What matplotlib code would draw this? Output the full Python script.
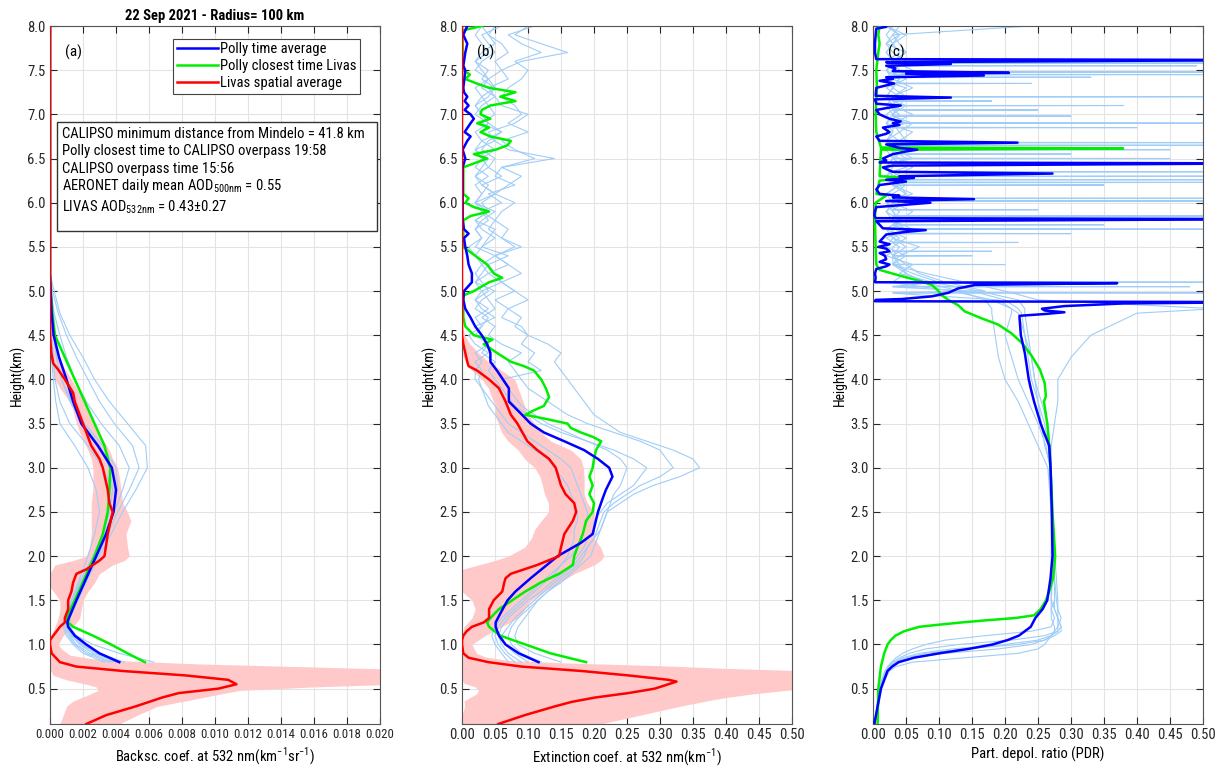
import numpy as np
import matplotlib
matplotlib.use('Agg')
import matplotlib.pyplot as plt
from matplotlib.patches import Rectangle
from matplotlib import font_manager

# pick a condensed sans font if one is installed
_entries = [(f.name, f.stretch) for f in font_manager.fontManager.ttflist]
_cond = ('condensed', 'semi-condensed', 'extra-condensed', 'ultra-condensed')
FONT, STRETCH = 'Roboto', 'normal'
for _name, _need_cond in [('Liberation Sans Narrow', False), ('Roboto Condensed', False),
                          ('Open Sans Condensed', False), ('Noto Sans', True),
                          ('DejaVu Sans', True), ('Open Sans', True), ('Roboto', True)]:
    if any(n == _name and (not _need_cond or s in _cond) for n, s in _entries):
        FONT, STRETCH = _name, ('condensed' if _need_cond else 'normal')
        break
plt.rcParams['font.family'] = [FONT, 'DejaVu Sans']
plt.rcParams['font.stretch'] = STRETCH

# ---------------- Panel (a): backscatter, values in 1e-3 km^-1 sr^-1 ----------------
h_polly_a = [0.8, 0.9, 1.0, 1.1, 1.2, 1.25, 1.3, 1.5, 1.75, 2.0, 2.25, 2.5, 2.75, 3.0,
             3.25, 3.5, 3.75, 4.0, 4.25, 4.5, 4.75, 5.0, 5.2, 8.0]
blue_a = [4.2, 3.0, 2.2, 1.5, 1.1, 1.05, 1.15, 1.6, 2.2, 2.8, 3.4, 3.85, 4.0, 3.75,
          2.9, 1.9, 1.4, 1.0, 0.55, 0.22, 0.1, 0.04, 0.0, 0.0]
green_a = [5.75, 4.7, 3.7, 2.6, 1.4, 1.1, 1.0, 1.5, 2.1, 2.7, 3.2, 3.5, 3.6, 3.65,
           3.3, 2.7, 2.1, 1.5, 0.9, 0.3, 0.15, 0.05, 0.0, 0.0]
lightblue_a = [
    [6.3, 4.2, 2.6, 1.6, 1.2, 1.2, 1.2, 1.7, 2.3, 3.0, 3.7, 4.4, 5.2, 5.9, 5.8, 4.7, 3.6, 2.7, 2.0, 1.2, 0.6, 0.25, 0.0, 0.0],
    [4.5, 3.0, 2.0, 1.4, 1.1, 1.1, 1.1, 1.6, 2.2, 2.9, 3.5, 4.1, 4.8, 5.4, 5.0, 3.9, 3.0, 2.3, 1.6, 1.0, 0.5, 0.15, 0.0, 0.0],
    [4.2, 2.6, 1.8, 1.3, 1.0, 1.0, 1.0, 1.5, 2.1, 2.8, 3.4, 3.9, 4.4, 4.8, 4.2, 3.1, 2.2, 1.5, 1.0, 0.6, 0.25, 0.05, 0.0, 0.0],
    [3.8, 2.4, 1.6, 1.2, 1.0, 0.95, 0.9, 1.3, 2.0, 2.7, 3.3, 3.8, 4.1, 4.0, 3.2, 2.1, 1.3, 0.7, 0.4, 0.2, 0.1, 0.0, 0.0, 0.0],
    [3.6, 2.2, 1.5, 1.1, 0.9, 0.9, 0.9, 1.3, 1.9, 2.6, 3.2, 3.6, 3.8, 3.2, 2.3, 1.2, 0.6, 0.3, 0.2, 0.1, 0.05, 0.0, 0.0, 0.0],
    [3.3, 2.0, 1.4, 1.0, 0.8, 0.85, 0.9, 1.3, 1.8, 2.3, 2.7, 3.0, 2.8, 2.3, 1.5, 0.6, 0.35, 0.2, 0.1, 0.05, 0.0, 0.0, 0.0, 0.0],
    [4.0, 2.8, 1.9, 1.3, 1.1, 1.0, 1.0, 1.4, 2.1, 2.7, 3.2, 3.6, 3.8, 3.6, 3.0, 2.0, 1.2, 0.7, 0.4, 0.25, 0.1, 0.0, 0.0, 0.0],
]
h_livas_a = [0.1, 0.2, 0.3, 0.4, 0.45, 0.5, 0.55, 0.6, 0.65, 0.7, 0.75, 0.8, 0.9, 1.0,
             1.05, 1.1, 1.2, 1.25, 1.3, 1.4, 1.5, 1.6, 1.7, 1.8, 1.85, 1.95, 2.0, 2.25,
             2.5, 2.6, 2.75, 3.0, 3.1, 3.25, 3.5, 3.75, 3.85, 4.0, 4.11, 4.18, 4.3, 4.45, 4.55, 8.0]
red_a = [2.2, 3.4, 5.2, 6.8, 7.8, 10.2, 11.3, 10.8, 8.2, 4.4, 1.6, 0.6, 0.1, 0.0,
         0.0, 0.2, 0.6, 0.9, 0.9, 1.1, 1.1, 1.3, 1.4, 1.6, 2.2, 3.0, 3.3, 3.5,
         3.8, 3.6, 3.5, 3.2, 3.0, 2.5, 2.0, 1.5, 1.4, 0.9, 0.5, 0.2, 0.08, 0.02, 0.0, 0.0]
h_band_a = [0.1, 0.2, 0.3, 0.36, 0.42, 0.48, 0.52, 0.55, 0.6, 0.65, 0.72, 0.75, 0.78,
            0.81, 0.84, 0.88, 0.95, 1.0, 1.1, 1.2, 1.3, 1.4, 1.5, 1.6, 1.65, 1.7, 1.8,
            1.9, 1.95, 2.0, 2.1, 2.25, 2.4, 2.5, 2.6, 2.75, 2.9, 3.0, 3.1, 3.2, 3.35,
            3.5, 3.65, 3.75, 3.9, 4.0, 4.15, 4.3, 4.45, 4.55]
band_lo_a = [0.6, 0.8, 1.0, 1.4, 2.2, 2.9, 2.8, 2.2, 1.0, 0.2, 0.0, 0.0, 0.0,
             0.0, 0.0, 0.0, 0.0, 0.0, 0.05, 0.3, 0.5, 0.6, 0.6, 0.2, 0.0, 0.0, 0.0,
             0.3, 1.4, 2.2, 2.4, 2.5, 2.5, 2.5, 2.5, 2.6, 2.6, 2.6, 2.5, 2.3, 1.9,
             1.6, 1.4, 1.2, 0.6, 0.3, 0.1, 0.0, 0.0, 0.0]
band_hi_a = [4.2, 5.3, 6.5, 8.2, 9.8, 11.5, 16.0, 21.0, 21.0, 21.0, 21.0, 15.0, 9.0,
             5.0, 2.5, 1.2, 0.7, 0.5, 0.8, 1.4, 1.8, 1.9, 2.0, 2.3, 2.5, 2.7, 3.0,
             3.8, 4.5, 4.8, 4.7, 4.6, 4.9, 4.7, 4.4, 4.3, 4.2, 4.1, 3.8, 3.6, 3.1,
             2.7, 2.4, 2.1, 1.6, 1.3, 0.8, 0.4, 0.15, 0.0]

# ---------------- Panel (b): extinction, km^-1 ----------------
h_polly_b = [0.8, 0.9, 1.0, 1.1, 1.2, 1.25, 1.35, 1.5, 1.6, 1.75, 2.0, 2.15, 2.25, 2.5,
             2.65, 2.75, 2.9, 3.0, 3.1, 3.2, 3.3, 3.4, 3.5, 3.6, 3.75, 3.9, 4.0, 4.1,
             4.2, 4.3, 4.4, 4.5, 4.6, 4.7, 4.8, 4.9, 5.0, 5.1, 5.2, 5.3, 5.4, 5.5,
             5.6, 5.65, 5.7, 5.8, 6.0, 6.2, 6.4, 6.5, 6.6, 6.7, 6.75, 6.8, 6.9, 6.95,
             7.0, 7.05, 7.1, 7.15, 7.2, 7.25, 7.3, 7.5, 7.55, 7.7, 7.8, 7.9, 8.0]
blue_b = [0.116, 0.086, 0.066, 0.056, 0.051, 0.051, 0.058, 0.069, 0.081, 0.104, 0.145, 0.180, 0.198, 0.206,
          0.213, 0.218, 0.228, 0.223, 0.206, 0.185, 0.155, 0.124, 0.104, 0.091, 0.071, 0.071, 0.062, 0.053,
          0.043, 0.043, 0.038, 0.030, 0.020, 0.013, 0.005, 0.002, 0.003, 0.015, 0.015, 0.010, 0.008, 0.005,
          0.003, 0.010, 0.003, 0.001, 0.001, 0.001, 0.001, 0.005, 0.001, 0.008, 0.013, 0.004, 0.013, 0.018,
          0.013, 0.004, 0.010, 0.004, 0.008, 0.003, 0.002, 0.005, 0.002, 0.005, 0.008, 0.002, 0.008]
h_green_b = [0.8, 0.9, 1.0, 1.1, 1.2, 1.25, 1.3, 1.4, 1.5, 1.6, 1.7, 1.8, 1.9, 2.0,
             2.1, 2.25, 2.4, 2.5, 2.6, 2.7, 2.8, 2.9, 3.0, 3.1, 3.2, 3.3, 3.35, 3.4,
             3.45, 3.5, 3.55, 3.6, 3.65, 3.7, 3.8, 3.9, 4.0, 4.1, 4.15, 4.2, 4.3, 4.4,
             4.45, 4.5, 4.6, 4.7, 4.95, 5.0, 5.1, 5.15, 5.2, 5.3, 5.4, 5.5, 5.8, 5.85,
             5.9, 5.95, 6.0, 6.05, 6.1, 6.4, 6.45, 6.5, 6.55, 6.6, 6.65, 6.7, 6.75, 6.8,
             6.85, 6.9, 6.95, 7.0, 7.05, 7.1, 7.15, 7.2, 7.25, 7.3, 7.35, 7.4, 7.45, 7.5,
             7.6, 7.95, 8.0]
green_b = [0.188, 0.134, 0.096, 0.058, 0.041, 0.038, 0.043, 0.056, 0.076, 0.096, 0.119, 0.147, 0.168, 0.170,
           0.175, 0.183, 0.188, 0.198, 0.200, 0.193, 0.198, 0.193, 0.198, 0.200, 0.203, 0.211, 0.198, 0.180,
           0.165, 0.160, 0.129, 0.096, 0.109, 0.124, 0.132, 0.127, 0.120, 0.109, 0.094, 0.074, 0.053, 0.033,
           0.046, 0.018, 0.005, 0.002, 0.002, 0.018, 0.041, 0.061, 0.048, 0.038, 0.020, 0.002, 0.002, 0.013,
           0.041, 0.018, 0.005, 0.010, 0.002, 0.002, 0.020, 0.038, 0.018, 0.051, 0.069, 0.074, 0.043, 0.028,
           0.041, 0.023, 0.043, 0.028, 0.030, 0.043, 0.081, 0.058, 0.081, 0.041, 0.022, 0.005, 0.012, 0.002,
           0.001, 0.001, 0.030]
h_lb_b = [0.8, 0.9, 1.0, 1.1, 1.2, 1.3, 1.4, 1.5, 1.6, 1.7, 1.8, 1.9, 2.0, 2.1, 2.2, 2.3, 2.4,
          2.5, 2.6, 2.7, 2.8, 2.9, 3.0, 3.1, 3.2, 3.3, 3.4, 3.5, 3.6, 3.7, 3.8, 3.9, 4.0,
          4.1, 4.2, 4.3, 4.4, 4.5, 4.6, 4.7, 4.8, 4.9, 5.0, 5.1, 5.2, 5.3, 5.4, 5.5, 5.6,
          5.7, 5.8, 5.9, 6.0, 6.1, 6.2, 6.3, 6.4, 6.5, 6.6, 6.7, 6.8, 6.9, 7.0, 7.1, 7.2,
          7.3, 7.4, 7.5, 7.6, 7.7, 7.8, 7.9, 8.0]
lightblue_b = [
    [.12, .09, .075, .07, .075, .085, .10, .115, .13, .145, .16, .175, .185, .19, .20, .21, .215,
     .22, .24, .26, .29, .33, .36, .35, .32, .28, .24, .22, .20, .19, .18, .17, .16,
     .15, .14, .15, .13, .10, .09, .06, .07, .05, .08, .06, .04, .07, .05, .09, .06,
     .04, .05, .03, .06, .04, .08, .05, .06, .14, .07, .05, .04, .08, .10, .06, .05,
     .04, .07, .06, .09, .16, .12, .08, .10],
    [.10, .08, .065, .06, .07, .08, .095, .11, .125, .14, .155, .17, .18, .19, .20, .205, .21,
     .215, .23, .25, .27, .30, .32, .31, .30, .27, .23, .19, .16, .14, .12, .10, .09,
     .08, .07, .09, .06, .04, .05, .03, .05, .04, .03, .06, .05, .04, .07, .03, .04,
     .05, .02, .04, .03, .05, .03, .06, .04, .05, .03, .04, .06, .03, .05, .04, .03,
     .05, .04, .06, .05, .07, .06, .04, .05],
    [.09, .07, .06, .055, .06, .07, .085, .10, .12, .135, .15, .165, .175, .185, .19, .20, .20,
     .21, .22, .24, .26, .27, .28, .26, .23, .19, .15, .12, .10, .08, .07, .06, .05,
     .04, .05, .03, .04, .02, .03, .04, .02, .03, .05, .02, .03, .04, .02, .03, .05,
     .03, .02, .04, .02, .03, .04, .02, .03, .04, .02, .05, .03, .04, .02, .03, .05,
     .03, .04, .02, .03, .05, .04, .03, .06],
    [.08, .065, .055, .05, .055, .065, .08, .095, .11, .125, .14, .15, .16, .165, .17, .17, .175,
     .175, .17, .165, .16, .15, .14, .13, .11, .09, .07, .06, .05, .04, .035, .03, .02,
     .02, .03, .02, .04, .03, .02, .05, .03, .02, .04, .03, .02, .03, .05, .02, .03,
     .02, .04, .03, .02, .05, .03, .02, .04, .03, .05, .03, .06, .04, .03, .02, .04,
     .05, .03, .04, .02, .03, .05, .04, .03],
    [.07, .06, .05, .045, .05, .06, .075, .09, .105, .12, .135, .15, .165, .175, .18, .185, .19,
     .19, .185, .18, .175, .17, .165, .15, .13, .11, .09, .07, .06, .05, .04, .03, .025,
     .03, .02, .04, .02, .01, .03, .02, .04, .02, .03, .02, .04, .03, .02, .01, .03,
     .02, .03, .05, .02, .03, .02, .04, .02, .03, .02, .03, .02, .04, .03, .02, .03,
     .02, .04, .03, .02, .04, .03, .02, .03],
    [.15, .11, .085, .08, .085, .095, .105, .115, .13, .15, .165, .18, .195, .20, .205, .21, .215,
     .22, .225, .23, .24, .245, .25, .24, .22, .19, .16, .13, .11, .09, .08, .07, .06,
     .12, .10, .11, .09, .10, .08, .09, .07, .10, .08, .06, .09, .07, .05, .08, .06,
     .07, .05, .06, .08, .05, .07, .09, .06, .11, .08, .06, .10, .07, .09, .08, .06,
     .07, .09, .10, .08, .12, .09, .07, .11],
]
h_livas_b = [0.1, 0.15, 0.2, 0.3, 0.35, 0.4, 0.45, 0.5, 0.58, 0.6, 0.65, 0.7, 0.75, 0.8,
             0.85, 0.9, 1.0, 1.05, 1.1, 1.15, 1.2, 1.25, 1.3, 1.4, 1.5, 1.6, 1.7, 1.75,
             1.8, 1.85, 1.9, 2.0, 2.1, 2.25, 2.4, 2.5, 2.6, 2.7, 2.8, 3.0, 3.1, 3.2,
             3.3, 3.5, 3.6, 3.75, 3.9, 4.0, 4.1, 4.15, 4.2, 4.3, 4.4, 4.5, 8.0]
red_b = [0.055, 0.075, 0.095, 0.141, 0.166, 0.202, 0.252, 0.292, 0.325, 0.313, 0.252, 0.181, 0.090, 0.040,
         0.010, 0.002, 0.0, 0.0, 0.002, 0.007, 0.015, 0.033, 0.041, 0.041, 0.048, 0.061, 0.064, 0.066,
         0.074, 0.094, 0.114, 0.147, 0.150, 0.155, 0.168, 0.173, 0.170, 0.157, 0.150, 0.142, 0.132, 0.114,
         0.099, 0.084, 0.074, 0.066, 0.056, 0.041, 0.023, 0.010, 0.008, 0.005, 0.002, 0.0, 0.0]
h_band_b = [0.1, 0.2, 0.3, 0.36, 0.4, 0.44, 0.48, 0.52, 0.56, 0.6, 0.7, 0.73, 0.76, 0.79,
            0.82, 0.86, 0.9, 1.0, 1.1, 1.2, 1.3, 1.4, 1.5, 1.6, 1.7, 1.8, 1.85, 1.9,
            1.95, 2.0, 2.1, 2.2, 2.3, 2.4, 2.5, 2.6, 2.7, 2.8, 2.9, 3.0, 3.1, 3.2,
            3.3, 3.4, 3.5, 3.6, 3.7, 3.8, 3.9, 4.0, 4.1, 4.2, 4.3, 4.4, 4.5, 4.6]
band_lo_b = [0.0, 0.0, 0.004, 0.003, 0.012, 0.022, 0.025, 0.020, 0.003, 0.0, 0.0, 0.0, 0.0, 0.0,
             0.0, 0.0, 0.0, 0.0, 0.0, 0.003, 0.015, 0.02, 0.015, 0.0, 0.0, 0.0, 0.0, 0.025,
             0.05, 0.07, 0.095, 0.105, 0.11, 0.12, 0.131, 0.131, 0.125, 0.122, 0.118, 0.11, 0.095, 0.085,
             0.07, 0.06, 0.055, 0.05, 0.05, 0.045, 0.04, 0.03, 0.015, 0.005, 0.0, 0.0, 0.0, 0.0]
band_hi_b = [0.21, 0.27, 0.33, 0.37, 0.40, 0.44, 0.49, 0.53, 0.53, 0.53, 0.53, 0.40, 0.30, 0.16,
             0.07, 0.035, 0.022, 0.015, 0.035, 0.06, 0.085, 0.095, 0.105, 0.125, 0.148, 0.17, 0.185, 0.20,
             0.21, 0.215, 0.21, 0.20, 0.20, 0.20, 0.20, 0.19, 0.185, 0.185, 0.185, 0.184, 0.18, 0.165,
             0.135, 0.12, 0.11, 0.10, 0.095, 0.09, 0.085, 0.08, 0.06, 0.04, 0.025, 0.012, 0.004, 0.0]

# ---------------- Panel (c): particle depolarization ratio ----------------
h_blue_c = [0.1, 0.3, 0.5, 0.6, 0.7, 0.75, 0.8, 0.85, 0.9, 0.95, 1.0, 1.05, 1.1, 1.2,
            1.3, 1.4, 1.5, 1.75, 2.0, 2.5, 3.0, 3.25, 3.4, 3.5, 3.75, 3.9, 4.0, 4.3,
            4.5, 4.7, 4.72, 4.74, 4.76, 4.78, 4.80, 4.83, 4.86, 4.875, 4.885, 4.90, 4.91, 4.94,
            4.98, 5.03, 5.07, 5.09, 5.10, 5.15, 5.2, 5.25, 5.28, 5.3, 5.33, 5.36, 5.4, 5.43,
            5.45, 5.48, 5.5, 5.53, 5.56, 5.6, 5.64, 5.67, 5.69, 5.71, 5.75, 5.79, 5.815, 5.825,
            5.86, 5.9, 5.95, 6.0, 6.02, 6.04, 6.06, 6.08, 6.1, 6.15, 6.2, 6.22, 6.24, 6.26,
            6.28, 6.30, 6.33, 6.35, 6.38, 6.40, 6.42, 6.445, 6.455, 6.48, 6.5, 6.55, 6.58, 6.60,
            6.62, 6.64, 6.66, 6.68, 6.70, 6.75, 6.78, 6.8, 6.85, 6.88, 6.9, 6.92, 6.95, 7.0,
            7.05, 7.1, 7.12, 7.17, 7.19, 7.21, 7.3, 7.35, 7.38, 7.4, 7.42, 7.44, 7.46, 7.47,
            7.49, 7.52, 7.55, 7.57, 7.59, 7.615, 7.625, 7.7, 7.8, 7.9, 7.97, 7.99, 8.0]
blue_c = [0.002, 0.007, 0.012, 0.017, 0.022, 0.029, 0.039, 0.062, 0.100, 0.145, 0.181, 0.204, 0.221, 0.239,
          0.246, 0.257, 0.264, 0.269, 0.272, 0.271, 0.269, 0.267, 0.259, 0.254, 0.244, 0.239, 0.236, 0.230,
          0.224, 0.222, 0.222, 0.26, 0.29, 0.26, 0.256, 0.29, 0.38, 0.60, 0.003, 0.004, 0.044, 0.089,
          0.114, 0.129, 0.155, 0.37, 0.003, 0.004, 0.003, 0.005, 0.02, 0.025, 0.01, 0.02, 0.018, 0.01,
          0.025, 0.02, 0.008, 0.025, 0.01, 0.015, 0.02, 0.05, 0.08, 0.015, 0.01, 0.005, 0.60, 0.004,
          0.002, 0.003, 0.005, 0.087, 0.02, 0.153, 0.03, 0.04, 0.01, 0.005, 0.01, 0.03, 0.05, 0.02,
          0.062, 0.04, 0.272, 0.03, 0.02, 0.015, 0.03, 0.60, 0.01, 0.02, 0.015, 0.03, 0.05, 0.067,
          0.04, 0.03, 0.02, 0.219, 0.01, 0.005, 0.02, 0.025, 0.015, 0.04, 0.03, 0.042, 0.025, 0.01,
          0.005, 0.042, 0.005, 0.003, 0.118, 0.004, 0.005, 0.032, 0.01, 0.03, 0.02, 0.168, 0.05, 0.206,
          0.03, 0.034, 0.02, 0.118, 0.02, 0.60, 0.005, 0.003, 0.003, 0.004, 0.005, 0.02, 0.02]
h_green_c = [0.1, 0.5, 0.75, 0.9, 1.0, 1.05, 1.1, 1.15, 1.2, 1.22, 1.25, 1.27, 1.3, 1.33,
             1.4, 1.5, 1.6, 1.75, 2.0, 2.5, 3.0, 3.25, 3.5, 3.75, 3.81, 3.96, 4.11, 4.26,
             4.41, 4.52, 4.62, 4.69, 4.77, 4.84, 4.9, 4.955, 5.01, 5.07, 5.12, 5.18, 5.24, 5.3,
             5.5, 5.8, 6.0, 6.08, 6.1, 6.25, 6.28, 6.3, 6.6, 6.615, 6.625, 6.8, 7.0, 7.3,
             7.5, 7.7, 7.8, 7.9, 8.0]
green_c = [0.007, 0.008, 0.012, 0.017, 0.022, 0.027, 0.034, 0.047, 0.070, 0.095, 0.135, 0.166, 0.216, 0.244,
           0.254, 0.262, 0.267, 0.273, 0.276, 0.272, 0.269, 0.267, 0.264, 0.259, 0.262, 0.260, 0.253, 0.241,
           0.226, 0.210, 0.190, 0.165, 0.139, 0.129, 0.114, 0.104, 0.098, 0.089, 0.068, 0.038, 0.010, 0.005,
           0.004, 0.003, 0.004, 0.020, 0.005, 0.010, 0.057, 0.010, 0.012, 0.379, 0.012, 0.005, 0.004, 0.006,
           0.005, 0.008, 0.010, 0.008, 0.010]
h_lb_c = [0.1, 0.3, 0.5, 0.6, 0.7, 0.75, 0.8, 0.85, 0.9, 0.95, 1.0, 1.05, 1.1, 1.15, 1.2, 1.3,
          1.4, 1.5, 1.75, 2.0, 2.5, 3.0, 3.25, 3.5, 3.75, 4.0, 4.25, 4.5, 4.75,
          4.8, 4.9, 5.0, 5.1, 5.2, 5.3, 5.4, 5.5, 5.6, 5.7, 5.8, 5.9, 6.0, 6.1, 6.2, 6.3,
          6.4, 6.5, 6.6, 6.7, 6.8, 6.9, 7.0, 7.1, 7.2, 7.3, 7.4, 7.5, 7.6, 7.7, 7.8, 7.9, 8.0]
lightblue_c = [
    [.003, .008, .013, .018, .025, .035, .06, .14, .22, .25, .26, .265, .27, .275, .275, .27,
     .27, .275, .275, .275, .27, .27, .265, .26, .25, .24, .235, .23, .22,
     .21, .18, .12, .08, .05, .04, .03, .05, .03, .02, .04, .03, .02, .05, .03, .04,
     .02, .03, .05, .02, .04, .03, .02, .04, .03, .05, .02, .03, .04, .02, .03, .02, .03],
    [.003, .008, .012, .016, .022, .028, .038, .06, .11, .19, .24, .26, .27, .275, .28, .28,
     .28, .28, .278, .275, .272, .27, .268, .265, .255, .245, .24, .23, .225,
     .22, .20, .15, .10, .06, .03, .05, .02, .04, .06, .03, .02, .04, .03, .05, .02,
     .03, .06, .04, .02, .03, .05, .03, .02, .04, .06, .03, .02, .05, .03, .02, .04, .02],
    [.002, .007, .011, .015, .02, .025, .033, .045, .07, .12, .20, .25, .27, .28, .28, .285,
     .28, .278, .275, .273, .27, .268, .262, .25, .235, .22, .21, .20, .21,
     .21, .19, .17, .11, .07, .05, .03, .04, .02, .05, .03, .04, .02, .06, .03, .02,
     .05, .03, .02, .04, .06, .02, .03, .05, .02, .03, .04, .02, .03, .05, .02, .03, .04],
    [.002, .006, .01, .014, .019, .024, .03, .04, .055, .08, .13, .21, .26, .28, .285, .28,
     .275, .27, .27, .27, .27, .27, .26, .255, .25, .245, .24, .235, .23,
     .23, .22, .16, .09, .04, .06, .02, .03, .05, .02, .04, .03, .05, .02, .04, .03,
     .02, .05, .03, .04, .02, .03, .06, .03, .04, .02, .05, .03, .02, .04, .03, .05, .02],
    [.002, .006, .009, .013, .018, .022, .028, .035, .045, .06, .08, .11, .17, .24, .27, .275,
     .27, .27, .272, .275, .27, .265, .25, .235, .22, .20, .19, .185, .18,
     .18, .17, .13, .08, .05, .03, .04, .02, .03, .02, .04, .02, .03, .02, .04, .03,
     .02, .03, .04, .02, .03, .02, .04, .03, .02, .03, .02, .04, .03, .02, .03, .04, .02],
    [.002, .007, .011, .015, .02, .026, .034, .05, .08, .14, .22, .26, .275, .285, .285, .28,
     .275, .275, .275, .275, .272, .27, .27, .275, .28, .28, .30, .33, .40,
     .52, .25, .20, .14, .08, .06, .04, .07, .03, .05, .04, .06, .03, .05, .04, .03,
     .06, .04, .03, .05, .04, .06, .03, .04, .05, .03, .04, .06, .03, .05, .04, .03, .24],
]
# horizontal spikes in the light-blue PDR profiles: (profile index, height, value)
spike_prof = [0, 1, 2, 3, 4, 5, 0, 1, 2, 3, 4, 5, 0, 1, 2, 3, 4, 5, 0, 1, 2, 3, 4, 5,
              0, 1, 2, 3, 4, 5, 0, 1, 2, 3, 4, 5, 0, 1, 2]
spike_h = [7.62, 7.58, 7.55, 7.48, 7.45, 7.42, 7.35, 7.20, 7.15, 7.10, 7.05, 6.98,
           6.90, 6.85, 6.68, 6.65, 6.60, 6.55, 6.50, 6.45, 6.35, 6.30, 6.26, 6.23,
           6.20, 6.05, 6.02, 5.92, 5.85, 5.75, 5.70, 5.65, 5.55, 5.45, 5.40, 5.30,
           5.10, 5.05, 4.98]
spike_v = [0.6, 0.6, 0.49, 0.6, 0.6, 0.33, 0.24, 0.6, 0.18, 0.38, 0.25, 0.30,
           0.6, 0.40, 0.6, 0.6, 0.45, 0.30, 0.45, 0.6, 0.6, 0.6, 0.6, 0.6,
           0.35, 0.6, 0.6, 0.25, 0.6, 0.35, 0.6, 0.30, 0.22, 0.18, 0.15, 0.20,
           0.6, 0.48, 0.6]

# ---------------- styling ----------------
C_BLUE = '#0000ff'
C_GREEN = '#00ee00'
C_RED = '#ff0000'
C_LB = '#9fcdf7'
C_BAND = '#ffc9c9'

fig = plt.figure(figsize=(12.22, 7.69), dpi=100)
W, H = 1222.0, 769.0
ax_bottom = 1 - 724 / H
ax_height = (724 - 26) / H
ax_w = 330 / W
axa = fig.add_axes([50 / W, ax_bottom, ax_w, ax_height])
axb = fig.add_axes([462 / W, ax_bottom, ax_w, ax_height])
axc = fig.add_axes([873 / W, ax_bottom, ax_w, ax_height])

m = 1e-3  # panel (a) lists are in 1e-3 km^-1 sr^-1

# Panel a
axa.fill_betweenx(h_band_a, np.array(band_lo_a) * m, np.array(band_hi_a) * m,
                  color=C_BAND, lw=0, zorder=1)
for prof in lightblue_a:
    axa.plot(np.array(prof) * m, h_polly_a, color=C_LB, lw=0.8, zorder=2)
la2, = axa.plot(np.array(green_a) * m, h_polly_a, color=C_GREEN, lw=1.8, zorder=3)
la1, = axa.plot(np.array(blue_a) * m, h_polly_a, color=C_BLUE, lw=1.8, zorder=4)
la3, = axa.plot(np.array(red_a) * m, h_livas_a, color=C_RED, lw=1.8, zorder=5)

# Panel b
axb.fill_betweenx(h_band_b, band_lo_b, band_hi_b, color=C_BAND, lw=0, zorder=1)
for prof in lightblue_b:
    axb.plot(prof, h_lb_b, color=C_LB, lw=0.8, zorder=2)
axb.plot(green_b, h_green_b, color=C_GREEN, lw=1.8, zorder=3)
axb.plot(blue_b, h_polly_b, color=C_BLUE, lw=1.8, zorder=4)
axb.plot(red_b, h_livas_b, color=C_RED, lw=1.8, zorder=5)

# Panel c
for i, prof in enumerate(lightblue_c):
    hh = list(h_lb_c)
    vv = list(prof)
    for p, sh, sv in zip(spike_prof, spike_h, spike_v):
        if p == i:
            hh += [sh - 0.004, sh, sh + 0.004]
            vv += [0.03, sv, 0.03]
    order = np.argsort(hh)
    axc.plot(np.array(vv)[order], np.array(hh)[order], color=C_LB, lw=0.8, zorder=2)
axc.plot(green_c, h_green_c, color=C_GREEN, lw=1.8, zorder=3)
axc.plot(blue_c, h_blue_c, color=C_BLUE, lw=1.8, zorder=4)

# axes styling
xlabels = [r'Backsc. coef. at 532 nm(km$^{\mathregular{-1}}$sr$^{\mathregular{-1}}$)',
           r'Extinction coef. at 532 nm(km$^{\mathregular{-1}}$)',
           'Part. depol. ratio (PDR)']
for ax, xmax, step, fmt, lab, xl, xls in [(axa, 0.02, 0.002, '{:.3f}', '(a)', xlabels[0], 9.3),
                                          (axb, 0.5, 0.05, '{:.2f}', '(b)', xlabels[1], 10.5),
                                          (axc, 0.5, 0.05, '{:.2f}', '(c)', xlabels[2], 10.5)]:
    ax.set_xlim(0, xmax)
    ax.set_ylim(0.1, 8.0)
    xt = np.arange(0, xmax + step / 2, step)
    ax.set_xticks(xt)
    ax.set_xticklabels([fmt.format(v) for v in xt])
    yt = np.arange(0.5, 8.01, 0.5)
    ax.set_yticks(yt)
    ax.set_yticklabels(['{:.1f}'.format(v) for v in yt])
    ax.tick_params(direction='in', top=True, right=True, length=5, width=0.8,
                   labelsize=10.5, colors='#262626', pad=3)
    ax.tick_params(axis='x', labelsize=xls)
    ax.grid(True, color='#e3e3e3', lw=0.8)
    ax.set_axisbelow(True)
    for s in ax.spines.values():
        s.set_color('#555555')
        s.set_linewidth(0.8)
    ax.set_ylabel('Height(km)', fontsize=10, labelpad=2)
    ax.set_xlabel(xl, fontsize=10.5, labelpad=3)
    ax.text(0.045, 0.962, lab, transform=ax.transAxes, fontsize=11, va='center', ha='left', zorder=10)

axa.set_title('22 Sep 2021 - Radius= 100 km', fontsize=10.5, fontweight='bold', pad=4)

leg = axa.legend([la1, la2, la3],
                 ['Polly time average', 'Polly closest time Livas', 'Livas spatial average'],
                 loc='upper right', bbox_to_anchor=(0.94, 0.982), fontsize=10.5,
                 handlelength=2.8, handletextpad=0.15, labelspacing=0.2,
                 borderpad=0.25, fancybox=False, framealpha=1, edgecolor='#444444',
                 borderaxespad=0)
leg.get_frame().set_linewidth(0.8)

axa.add_patch(Rectangle((0.021, 0.706), 0.969, 0.156, transform=axa.transAxes,
                        facecolor='white', edgecolor='#333333', lw=1.0, zorder=8))
info_lines = ['CALIPSO minimum distance from Mindelo = 41.8 km',
              'Polly closest time to CALIPSO overpass 19:58',
              'CALIPSO overpass time 15:56',
              r'AERONET daily mean AOD$_{\mathregular{500nm}}$ = 0.55',
              r'LIVAS AOD$_{\mathregular{532nm}}$ = 0.43$\mathregular{\pm}$0.27']
info_y = [0.839, 0.815, 0.790, 0.765, 0.735]
for t, y in zip(info_lines, info_y):
    axa.text(0.036, y, t, transform=axa.transAxes, fontsize=10.5, va='baseline',
             ha='left', zorder=9)

fig.savefig('out.png', dpi=100)
